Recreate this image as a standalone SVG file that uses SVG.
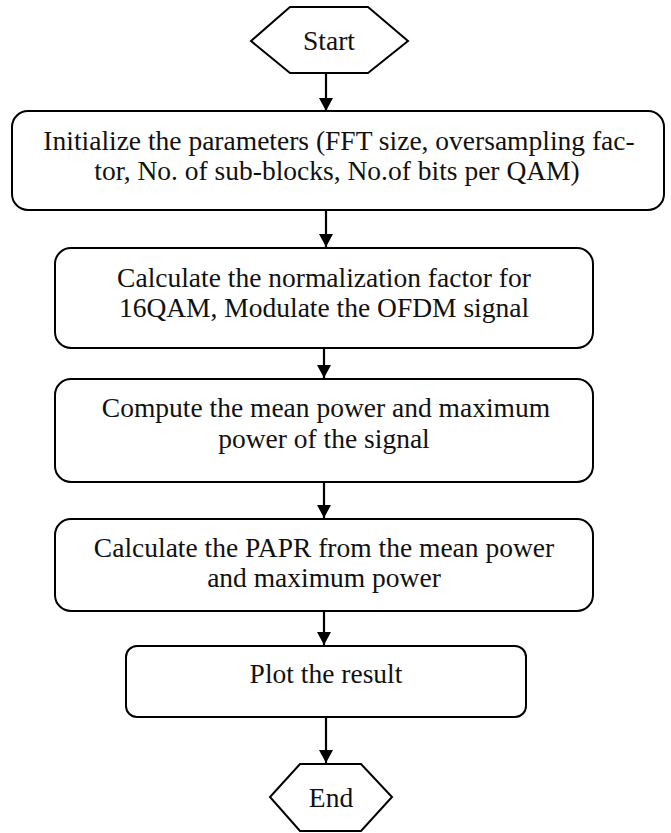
<svg xmlns="http://www.w3.org/2000/svg" width="671" height="833" viewBox="0 0 671 833">
  <defs>
    <marker id="ah" markerWidth="15" markerHeight="14" refX="14" refY="7.5" orient="auto" markerUnits="userSpaceOnUse" viewBox="0 0 14 15">
      <path d="M0,0 L14,7.5 L0,15 Z" fill="#000"/>
    </marker>
  </defs>
  <style>
    .shape { fill: #fff; stroke: #000; stroke-width: 2; }
    .lbl { font-family: "Liberation Serif", "Times New Roman", serif; font-size: 27.5px; fill: #111; text-anchor: middle; }
    .conn { stroke: #000; stroke-width: 2.2; fill: none; marker-end: url(#ah); }
  </style>
  <rect width="671" height="833" fill="#fff"/>

  <g id="connectors">
    <line class="conn" x1="326" y1="73" x2="326" y2="111"/>
    <line class="conn" x1="326" y1="210" x2="326" y2="247"/>
    <line class="conn" x1="324" y1="349" x2="324" y2="378"/>
    <line class="conn" x1="324" y1="482" x2="324" y2="518"/>
    <line class="conn" x1="324" y1="611" x2="324" y2="645"/>
    <line class="conn" x1="326" y1="717" x2="326" y2="763"/>
  </g>

  <g id="start">
    <polygon class="shape" points="290,7 368,7 408,41 368,73 290,73 251,41"/>
    <text class="lbl" x="329" y="50">Start</text>
  </g>

  <g id="init">
    <rect class="shape" x="12" y="111" width="652" height="99" rx="16"/>
    <text class="lbl" x="339" y="150">Initialize the parameters (FFT size, oversampling fac-</text>
    <text class="lbl" x="337" y="180">tor, No. of sub-blocks, No.of bits per QAM)</text>
  </g>

  <g id="normalize">
    <rect class="shape" x="55" y="248" width="538" height="100" rx="16"/>
    <text class="lbl" x="324" y="287">Calculate the normalization factor for</text>
    <text class="lbl" x="324" y="317">16QAM, Modulate the OFDM signal</text>
  </g>

  <g id="compute">
    <rect class="shape" x="55" y="379" width="538" height="103" rx="16"/>
    <text class="lbl" x="326" y="417">Compute the mean power and maximum</text>
    <text class="lbl" x="324" y="448">power of the signal</text>
  </g>

  <g id="papr">
    <rect class="shape" x="55" y="519" width="538" height="92" rx="16"/>
    <text class="lbl" x="324" y="557">Calculate the PAPR from the mean power</text>
    <text class="lbl" x="324" y="587">and maximum power</text>
  </g>

  <g id="plot">
    <rect class="shape" x="126" y="646" width="400" height="71" rx="11"/>
    <text class="lbl" x="326" y="683">Plot the result</text>
  </g>

  <g id="end">
    <polygon class="shape" points="300,764 361,764 392,797 361,831 300,831 270,797"/>
    <text class="lbl" x="331" y="807">End</text>
  </g>
</svg>
